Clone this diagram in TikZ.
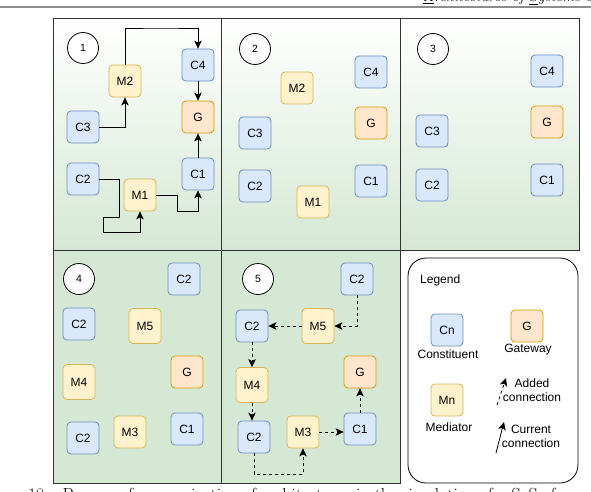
\documentclass[tikz,border=0pt]{standalone}
\usepackage{fontspec}
\newfontfamily\arialf{Liberation Sans}
\usetikzlibrary{arrows.meta}
\definecolor{cfill}{HTML}{DAE8FC}
\definecolor{cdraw}{HTML}{6C8EBF}
\definecolor{mfill}{HTML}{FFF2CC}
\definecolor{mdraw}{HTML}{D6B656}
\definecolor{gfill}{HTML}{FFE6CC}
\definecolor{gdraw}{HTML}{D79B00}
\definecolor{pgreen}{HTML}{D5E8D4}
\tikzset{
 box/.style={rounded corners=4pt, minimum width=32pt, minimum height=32pt, inner sep=0pt, line width=0.8pt, font=\arialf\fontsize{12}{14}\selectfont},
 cbox/.style={box, fill=cfill, draw=cdraw},
 mbox/.style={box, fill=mfill, draw=mdraw},
 gbox/.style={box, fill=gfill, draw=gdraw},
 tall/.style={minimum height=35pt},
 num/.style={circle, draw=black, fill=white, line width=0.8pt, minimum size=31pt, inner sep=0pt, font=\arialf\fontsize{10.5}{12}\selectfont},
 arr/.style={-{Stealth[length=8pt,width=7.5pt,inset=2pt]}, line width=0.8pt},
 darr/.style={arr, dash pattern=on 3pt off 3pt},
 panel/.style={draw=black!80, line width=0.8pt},
 lbl/.style={font=\arialf\fontsize{12}{14}\selectfont, align=center, inner sep=0pt},
}
\begin{document}
\begin{tikzpicture}[x=1pt,y=-1pt]
\useasboundingbox (0,0) rectangle (591,492);
\clip (0,0) rectangle (591,492);
\fill[white] (0,0) rectangle (591,492);
% page header and caption fragments
\draw[black!45, line width=1.5pt] (0,7) -- (591,7);
\node[anchor=base west, inner sep=0pt, font=\itshape\fontsize{15}{17}\selectfont] (hdr) at (423,2) {\underline{A}rchitectures of \underline{S}ystems of \underline{S}ystems};
\node[anchor=base west, inner sep=0pt, font=\fontsize{17.5}{20}\selectfont] (cap) at (28,500) {18:\hspace{14pt}Process of reorganization of architectures in the simulation of a SoS of};
% panels
\shade[top color=white, bottom color=pgreen] (53,18) rectangle (221,250);
\shade[top color=white, bottom color=pgreen] (221,18) rectangle (400,250);
\shade[top color=white, bottom color=pgreen] (400,18) rectangle (579,250);
\fill[pgreen] (53,250) rectangle (400,483);
\draw[panel] (53,18) rectangle (221,250);
\draw[panel] (221,18) rectangle (400,250);
\draw[panel] (400,18) rectangle (579,250);
\draw[panel] (53,250) rectangle (221,483);
\draw[panel] (221,250) rectangle (400,483);
% panel 1
\node[num] (n1) at (83,48) {1};
\node[mbox] (p1M2) at (125,81) {M2};
\node[cbox] (p1C4) at (198,65) {C4};
\node[gbox] (p1G) at (198,117) {G};
\node[cbox] (p1C3) at (83,127) {C3};
\node[cbox] (p1C2) at (83,179) {C2};
\node[cbox] (p1C1) at (198,174) {C1};
\node[mbox] (p1M1) at (140,195) {M1};
\coordinate (p1t) at (160,28);
\coordinate (p1a) at (119,217);
\coordinate (p1b) at (103,232);
\coordinate (p1c) at (177,211);
\draw[arr] (p1C3) -| (p1M2);
\draw[arr] (p1M2) |- (p1t) -| (p1C4);
\draw[arr] (p1C4) -- (p1G);
\draw[arr] (p1C1) -- (p1G);
\draw[arr] (p1C2) -| (p1a) -| (p1b) -| (p1M1);
\draw[arr] (p1M1) -| (p1c) -| (p1C1);
% panel 2
\node[num] (n2) at (255,49) {2};
\node[cbox] (p2C4) at (371,72) {C4};
\node[mbox] (p2M2) at (297,88) {M2};
\node[gbox] (p2G) at (371,123) {G};
\node[cbox] (p2C3) at (255,133) {C3};
\node[cbox] (p2C2) at (255,186) {C2};
\node[cbox] (p2C1) at (371,181) {C1};
\node[mbox] (p2M1) at (313,202) {M1};
% panel 3
\node[num] (n3) at (433,49) {3};
\node[cbox] (p3C4) at (547,71) {C4};
\node[gbox] (p3G) at (547,122) {G};
\node[cbox] (p3C1) at (547,180) {C1};
\node[cbox] (p3C3) at (432,131) {C3};
\node[cbox] (p3C2) at (432,185) {C2};
% panel 4
\node[num] (n4) at (79,279) {4};
\node[cbox] (p4C2a) at (184,279) {C2};
\node[cbox] (p4C2b) at (79,324) {C2};
\node[mbox,tall] (p4M5) at (145,326) {M5};
\node[gbox] (p4G) at (187,372) {G};
\node[mbox,tall] (p4M4) at (79,382) {M4};
\node[cbox] (p4C2c) at (83,438) {C2};
\node[mbox] (p4M3) at (130,432) {M3};
\node[cbox] (p4C1) at (187,429) {C1};
% panel 5
\node[num] (n5) at (258,279) {5};
\node[cbox] (p5C2a) at (357,279) {C2};
\node[mbox,tall] (p5M5) at (318,326) {M5};
\node[cbox] (p5C2b) at (252,326) {C2};
\node[mbox,tall] (p5M4) at (252,385) {M4};
\node[gbox] (p5G) at (360,372) {G};
\node[cbox] (p5C2c) at (254,437) {C2};
\node[mbox] (p5M3) at (303,432) {M3};
\node[cbox] (p5C1) at (360,429) {C1};
\coordinate (p5d) at (303,474);
\draw[darr] (p5C2a) |- (p5M5);
\draw[darr] (p5M5) -- (p5C2b);
\draw[darr] (p5C2b) -- (p5M4);
\draw[darr] (p5M4.south) -- (p5M4.south |- p5C2c.north);
\draw[darr] (p5C2c) |- (p5d) -- (p5M3);
\draw[darr] (p5M3.east) -- (p5M3.east -| p5C1.west);
\draw[darr] (p5C1) -- (p5G);
% legend
\draw[line width=0.8pt, fill=white, rounded corners=18pt] (408,258) rectangle (578,483);
\node[lbl, anchor=west] (lgt) at (420,280) {Legend};
\node[cbox] (lgC) at (447,330) {Cn};
\node[lbl] (lgCt) at (448,354) {Constituent};
\node[gbox] (lgG) at (527,326) {G};
\node[lbl] (lgGt) at (528,350) {Gateway};
\node[mbox] (lgM) at (447,400) {Mn};
\node[lbl] (lgMt) at (449,427) {Mediator};
\coordinate (lga1) at (497,405);
\coordinate (lga2) at (506,378);
\coordinate (lgb1) at (496,453);
\coordinate (lgb2) at (504,422);
\draw[darr] (lga1) -- (lga2);
\draw[arr] (lgb1) -- (lgb2);
\node[lbl] (lgAt) at (532,390) {Added\\connection};
\node[lbl] (lgBt) at (531,436) {Current\\connection};
\end{tikzpicture}
\end{document}
